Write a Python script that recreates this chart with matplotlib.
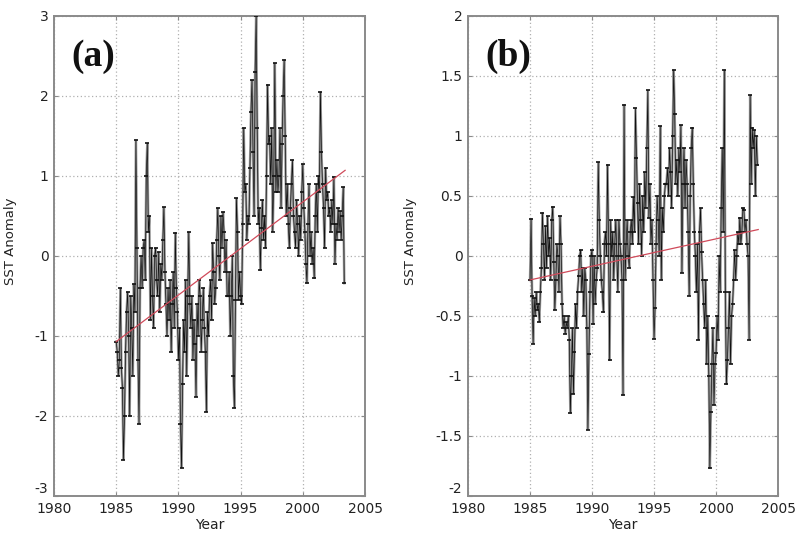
import numpy as np
import matplotlib
matplotlib.use("Agg")
import matplotlib.pyplot as plt

start_year = 1985.0

sst_a = [
    -1.07, -1.2, -1.5, -1.3, -0.4, -1.4, -1.65, -2.55, -2.0, -1.2, -0.7, -0.45,   # 1985
    -1.0, -2.0, -0.5, -0.9, -1.5, -0.35, -0.7, 1.45, 0.1, -1.3, -2.1, -0.4,        # 1986
    0.0, -0.4, 0.1, 0.2, -0.3, 1.0, 1.41, 0.3, 0.5, -0.8, 0.1, -0.5,               # 1987
    -0.9, 0.0, 0.1, -0.3, -0.5, 0.05, -0.7, -0.1, -0.3, 0.2, 0.61, -0.2,           # 1988
    -0.6, -1.0, -0.4, -0.8, -0.3, -1.2, -0.6, -0.2, -0.9, 0.29, -0.4, -0.7,        # 1989
    -1.3, -0.9, -2.1, -2.65, -1.6, -0.8, -1.2, -0.3, -1.5, -0.5, 0.3, -0.6,        # 1990
    -0.9, -0.5, -1.3, -0.8, -1.1, -1.76, -0.6, -1.0, -0.3, -0.5, -1.2, -0.8,       # 1991
    -0.4, -0.9, -1.2, -1.95, -0.7, -1.0, -0.5, -0.3, -0.8, 0.16, -0.2, -0.6,       # 1992
    -0.4, 0.2, 0.6, 0.0, -0.3, 0.5, 0.1, 0.55, 0.3, -0.2, 0.2, -0.5,               # 1993
    -0.5, -0.2, -1.0, -0.5, 0.0, -1.5, -1.9, -0.55, 0.72, 0.3, -0.55, -0.2,        # 1994
    -0.5, -0.6, 0.4, 1.6, 0.8, 0.9, 0.2, 0.5, 0.4, 1.1, 1.8, 2.2,                  # 1995
    1.3, 0.5, 2.3, 3.0, 1.6, 0.4, 0.6, -0.18, 0.35, 0.7, 0.2, 0.5,                 # 1996
    0.1, 1.0, 2.14, 1.4, 1.5, 0.9, 1.6, 0.3, 1.0, 2.41, 0.8, 1.2,                  # 1997
    0.8, 1.0, 1.6, 0.6, 1.4, 2.0, 2.45, 1.5, 0.5, 0.9, 0.4, 0.1,                   # 1998
    0.6, 0.9, 1.2, 0.5, 0.3, 0.1, 0.7, 0.4, 0.0, 0.5, 0.2, 0.8,                    # 1999
    1.15, 0.6, 0.3, -0.1, -0.34, 0.4, 0.9, 0.0, 0.3, -0.1, 0.1, -0.28,             # 2000
    0.5, 0.9, 0.3, 1.0, 0.8, 2.05, 1.3, 0.9, 0.6, 0.1, 1.1, 0.7,                   # 2001
    0.8, 0.5, 0.6, 0.3, 0.7, 0.4, 0.99, -0.1, 0.4, 0.2, 0.6, 0.3,                  # 2002
    0.56, 0.2, 0.5, 0.86, -0.34,                                                    # 2003
]

sst_b = [
    -0.2, 0.31, -0.33, -0.73, -0.35, -0.5, -0.3, -0.45, -0.4, -0.55, -0.3, -0.1,   # 1985
    0.36, 0.1, -0.2, 0.25, -0.1, 0.33, 0.0, 0.15, -0.2, 0.3, 0.41, -0.05,          # 1986
    -0.45, -0.2, 0.1, 0.0, -0.3, 0.33, 0.1, -0.4, -0.6, -0.5, -0.65, -0.55,        # 1987
    -0.6, -0.5, -0.7, -1.31, -1.0, -0.6, -1.15, -0.8, -0.4, -0.6, -0.3, -0.17,     # 1988
    0.0, 0.05, -0.3, -0.1, -0.5, -0.1, -0.2, -0.6, -1.45, -0.82, -0.3, 0.0,        # 1989
    0.05, -0.57, 0.0, -0.4, -0.2, -0.1, 0.78, 0.3, 0.0, -0.2, -0.3, -0.47,         # 1990
    0.1, 0.2, 0.0, 0.76, 0.1, -0.87, 0.3, 0.0, 0.2, -0.2, 0.1, 0.3,                # 1991
    0.0, -0.3, 0.3, 0.1, 0.0, -0.2, -1.16, 1.26, -0.2, 0.1, 0.3, 0.0,              # 1992
    -0.1, 0.2, 0.3, 0.1, 0.49, 0.2, 1.23, 0.82, 0.44, 0.1, 0.6, 0.3,               # 1993
    0.0, 0.5, 0.2, 0.7, 0.4, 0.9, 1.38, 0.32, 0.6, 0.1, 0.3, -0.2,                 # 1994
    -0.69, -0.43, 0.1, 0.5, 0.3, 0.0, 1.08, -0.2, 0.4, 0.2, 0.5, 0.6,              # 1995
    0.6, 0.73, 0.5, 0.9, 0.7, 0.4, 1.0, 1.55, 1.18, 0.6, 0.8, 0.5,                 # 1996
    0.9, 0.7, 1.09, -0.14, 0.6, 0.9, 0.4, 0.8, 0.6, 0.2, -0.33, 0.5,               # 1997
    0.9, 1.07, 0.6, 0.2, 0.0, -0.3, 0.1, -0.7, 0.2, 0.4, 0.03, -0.2,               # 1998
    -0.4, -0.6, -0.2, -0.9, -0.5, -1.0, -1.77, -1.3, -0.9, -0.6, -1.24, -0.9,      # 1999
    -0.81, -0.5, -0.7, 0.0, -0.3, 0.4, 0.9, 0.2, 1.55, -0.3, -1.07, -0.87,         # 2000
    -0.6, -0.3, -0.9, -0.5, -0.4, -0.2, 0.05, -0.2, 0.0, 0.2, 0.1, 0.32,           # 2001
    0.1, 0.2, 0.4, 0.38, 0.2, 0.3, 0.1, 0.0, -0.7, 1.34, 0.6, 1.07,                # 2002
    0.9, 1.05, 0.5, 1.0, 0.76,                                                      # 2003
]

trend_years = [1985.0, 2003.4]
trend_a = [-1.07, 1.07]
trend_b = [-0.2, 0.22]

panel_labels = ["(a)", "(b)"]
xticks = [1980, 1985, 1990, 1995, 2000, 2005]
yticks_a = [-3, -2, -1, 0, 1, 2, 3]
yticks_b = [-2, -1.5, -1, -0.5, 0, 0.5, 1, 1.5, 2]

fig = plt.figure(figsize=(7.98, 5.34), dpi=100)
ax_a = fig.add_axes([0.0677, 0.0712, 0.3897, 0.899])
ax_b = fig.add_axes([0.5865, 0.0712, 0.3885, 0.899])

def draw(ax, vals, trend, yticks, ylim, label, ylab_x):
    x = start_year + np.arange(len(vals)) / 12.0
    ax.plot(x, vals, color="#9a9a9a", lw=1.8, zorder=2, solid_joinstyle="miter")
    ax.plot(x, vals, color="#111111", lw=0.5, zorder=3)
    ax.plot(x, vals, ls="none", marker="_", ms=3.5, mew=1.2, color="#111111", zorder=4)
    ax.plot(trend_years, trend, color="#d04a5a", lw=0.9, zorder=5)
    ax.set_xlim(1980, 2005)
    ax.set_ylim(*ylim)
    ax.set_xticks(xticks)
    ax.set_yticks(yticks)
    ax.set_yticklabels([("%g" % t) for t in yticks])
    ax.grid(True, ls=(0, (1, 2)), color="#b0b0b0", lw=0.9)
    ax.set_axisbelow(True)
    for s in ax.spines.values():
        s.set_color("#8a8a8a")
        s.set_linewidth(1.4)
    ax.tick_params(direction="in", length=3, width=0.8, color="#8a8a8a",
                   top=True, right=True, labelsize=10, labelcolor="#222222", pad=4)
    # lowest y label sits just above the first x label, as in the original
    ax.get_yticklabels()[0].set_verticalalignment("bottom")
    ax.set_xlabel("Year", fontsize=10, color="#222222", labelpad=2)
    ax.set_ylabel("SST Anomaly", fontsize=9.5, color="#222222")
    ax.yaxis.set_label_coords(ylab_x, 0.53)
    ax.text(0.055, 0.915, label, transform=ax.transAxes, ha="left", va="center",
            fontsize=27, fontweight="bold", family="Liberation Serif", color="#111111")

draw(ax_a, sst_a, trend_a, yticks_a, (-3, 3), panel_labels[0], -0.12)
draw(ax_b, sst_b, trend_b, yticks_b, (-2, 2), panel_labels[1], -0.165)

fig.savefig("out.png", dpi=100)
